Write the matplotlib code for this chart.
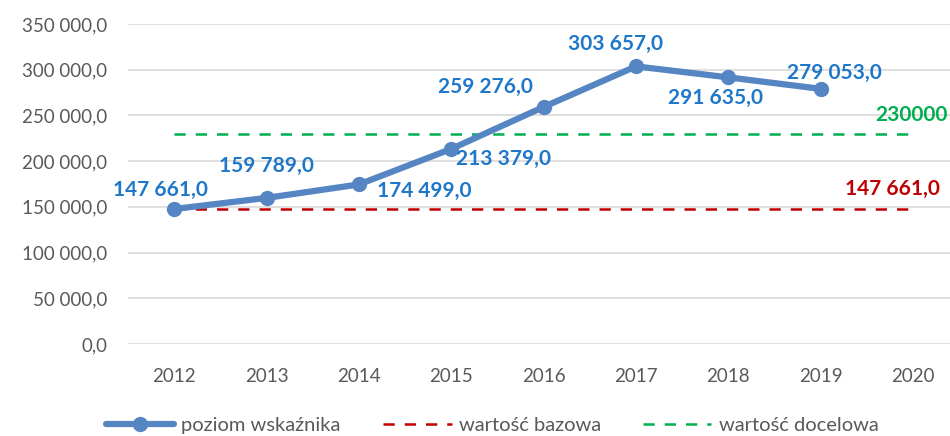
import matplotlib.pyplot as plt
import numpy as np

plt.rcParams['font.family'] = ['Lato', 'DejaVu Sans']

years = ['2012', '2013', '2014', '2015', '2016', '2017', '2018', '2019', '2020']
poziom = [147661, 159789, 174499, 213379, 259276, 303657, 291635, 279053]
bazowa = 147661.0
docelowa = 230000

def fmt(v):
    return f'{v:,.1f}'.replace(',', ' ').replace('.', ',')

fig = plt.figure(figsize=(9.5, 4.36), dpi=100)
ax = fig.add_axes([128 / 950, (436 - 344) / 436, 1 - 128 / 950, 320 / 436])

x = np.arange(len(years))
xp = x[:len(poziom)]

ax.plot([x[0], x[-1]], [bazowa, bazowa], color='#C00000', linestyle=(0, (4.5, 4)), linewidth=1.8,
        label='wartość bazowa', zorder=2)
ax.plot([x[0], x[-1]], [docelowa, docelowa], color='#00B050', linestyle=(0, (4.5, 4)), linewidth=1.8,
        label='wartość docelowa', zorder=2)
ax.plot(xp, poziom, color='#5685C4', linewidth=4.5, marker='o', markersize=10,
        label='poziom wskaźnika', zorder=3, solid_capstyle='round')

# data label offsets in pixels from the point: (dx, dy, ha)
offsets = [(-14, 19, 'center'), (0, 32, 'center'), (18, -7, 'left'), (5, -10, 'left'),
           (-11, 20, 'right'), (-20, 22, 'center'), (-13, -21, 'center'), (14, 16, 'center')]
for xi, v, (dx, dy, ha) in zip(xp, poziom, offsets):
    ax.annotate(fmt(v), (xi, v), xytext=(dx, dy), textcoords='offset pixels', ha=ha, va='center',
                fontsize=15, fontweight='bold', color='#1F77C9')

ax.annotate(fmt(bazowa), (x[-1], bazowa), xytext=(-68, 20), textcoords='offset pixels', ha='left',
            va='center', fontsize=15, fontweight='bold', color='#C00000', annotation_clip=False)
ax.annotate(str(docelowa), (x[-1], docelowa), xytext=(-38, 19), textcoords='offset pixels', ha='left',
            va='center', fontsize=15, fontweight='bold', color='#00B050', annotation_clip=False)

ax.set_ylim(0, 350000)
ax.set_xlim(-0.5, 8.4)
yt = np.arange(0, 350001, 50000)
ax.set_yticks(yt)
ax.set_yticklabels([fmt(v) for v in yt])
ax.set_xticks(x)
ax.set_xticklabels(years)
ax.tick_params(axis='both', length=0, labelsize=13.5, labelcolor='#595959')
ax.tick_params(axis='y', pad=15)
ax.tick_params(axis='x', pad=17)
ax.grid(axis='y', color='#D9D9D9', linewidth=1.2)
ax.set_axisbelow(True)
for s in ax.spines.values():
    s.set_visible(False)

h, l = ax.get_legend_handles_labels()
order = [2, 0, 1]
fig.legend([h[i] for i in order], [l[i] for i in order], loc='center', bbox_to_anchor=(0.518, 11 / 436),
           ncol=3, frameon=False, fontsize=14.5, labelcolor='#595959', handlelength=3.4, columnspacing=2.1,
           handletextpad=0.35, borderpad=0, borderaxespad=0)

fig.savefig('out.png', dpi=100)
